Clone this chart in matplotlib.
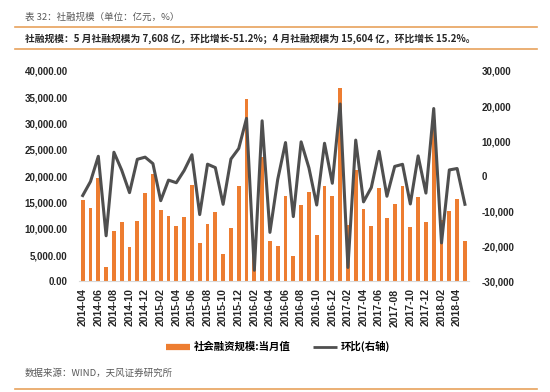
import numpy as np
import pandas as pd
import matplotlib
matplotlib.use('Agg')
import matplotlib.pyplot as plt
from matplotlib.lines import Line2D
from matplotlib.ticker import FuncFormatter

CJK = ['Noto Sans CJK SC', 'DejaVu Sans']
plt.rcParams['font.family'] = ['Liberation Sans', 'Noto Sans CJK SC']

ORANGE = '#ED7D31'
GRAY = '#4F4F4F'
RULE = '#E8A25C'

# 2014-04 ... 2018-05
months = list(pd.period_range('2014-04', '2018-05', freq='M').strftime('%Y-%m'))

# 社会融资规模:当月值 (亿元)
tsf_monthly = [
    15510, 14013, 19700, 2731, 9574, 11300, 6627, 11459, 16900,
    20500, 13532, 12433, 10582, 12200, 18324, 7400, 10838, 13300, 5300, 10200, 18100,
    34600, 7800, 23600, 7600, 6700, 16300, 4800, 14600, 17000, 8800, 18200, 16200,
    36800, 10800, 21100, 13800, 10600, 17700, 12000, 14800, 18200, 10300, 16100, 11300,
    30600, 11600, 13400, 15604, 7608,
]

# 环比(右轴), 亿元
mom_change = [
    -5500, -1497, 5687, -16969, 6843, 1726, -4673, 4832, 5441,
    3600, -6968, -1099, -1851, 1618, 6124, -10924, 3438, 2462, -8000, 4900, 7900,
    16500, -26800, 15800, -16000, -900, 9600, -11500, 9800, 2400, -8200, 9400, -2000,
    20600, -26000, 10300, -7300, -3200, 7100, -5700, 2800, 3400, -7900, 5800, -4800,
    19300, -19000, 1800, 2204, -7996,
]

title = '表 32：社融规模（单位：亿元，%）'
subtitle = ('社融规模：5 月社融规模为 7,608 亿，环比增长-51.2%；'
            '4 月社融规模为 15,604 亿，环比增长 15.2%。')
source = '数据来源：WIND，天风证券研究所'

fig = plt.figure(figsize=(5.5, 3.92), dpi=100)
ax = fig.add_axes([0.1433, 0.2819, 0.7091, 0.5370])
ax2 = ax.twinx()

x = np.arange(len(months))
ax.bar(x, tsf_monthly, width=0.5, color=ORANGE, zorder=2)
ax2.plot(x, mom_change, color=GRAY, lw=2.2, zorder=3)

ax.set_xlim(-0.5, len(months) - 0.5)
ax.set_ylim(0, 40000)
ax2.set_ylim(-30000, 30000)
ax.set_yticks(np.arange(0, 40001, 5000))
ax2.set_yticks(np.arange(-30000, 30001, 10000))
ax.yaxis.set_major_formatter(FuncFormatter(lambda v, p: f'{v:,.2f}'))
ax2.yaxis.set_major_formatter(FuncFormatter(lambda v, p: f'{v:,.0f}'))
ax.set_xticks(x[::2])
ax.set_xticklabels(months[::2], rotation=90)

for a in (ax, ax2):
    for s in a.spines.values():
        s.set_visible(False)
    a.tick_params(length=0, labelsize=7, labelcolor='#262626')
    for lab in a.get_yticklabels() + a.get_xticklabels():
        lab.set_fontweight('bold')
ax.spines['bottom'].set_visible(True)
ax.spines['bottom'].set_color('#D9D9D9')
ax.tick_params(axis='y', pad=8)
ax.tick_params(axis='x', pad=5, labelsize=7.5)
ax2.tick_params(axis='y', pad=9)
ax.set_zorder(ax2.get_zorder() - 1)
ax.patch.set_visible(False)

# header and footer
fig.text(25 / 550, 1 - 16.7 / 392, title, family=CJK, fontsize=6.8, color='#595959', va='center')
fig.text(25 / 550, 1 - 38.3 / 392, subtitle, family=CJK, fontsize=7, weight='bold',
         color='#262626', va='center')
fig.text(25 / 550, 1 - 373.3 / 392, source, family=CJK, fontsize=6.8, color='#595959', va='center')
for yy in (27.3, 49.3, 389.3):
    fig.add_artist(Line2D([15 / 550, 537 / 550], [1 - yy / 392] * 2, color=RULE, lw=1.2))

handles = [Line2D([], [], color=ORANGE, lw=4.5, solid_capstyle='butt'),
           Line2D([], [], color=GRAY, lw=2, solid_capstyle='butt')]
fig.legend(handles, ['社会融资规模:当月值', '环比(右轴)'], loc='center',
           bbox_to_anchor=(278 / 550, 1 - 346.7 / 392), ncol=2, frameon=False,
           handlelength=2.3, handletextpad=0.3, columnspacing=2.2,
           prop={'family': CJK, 'size': 7.5, 'weight': 'bold'})

fig.savefig('out.png', dpi=100)
